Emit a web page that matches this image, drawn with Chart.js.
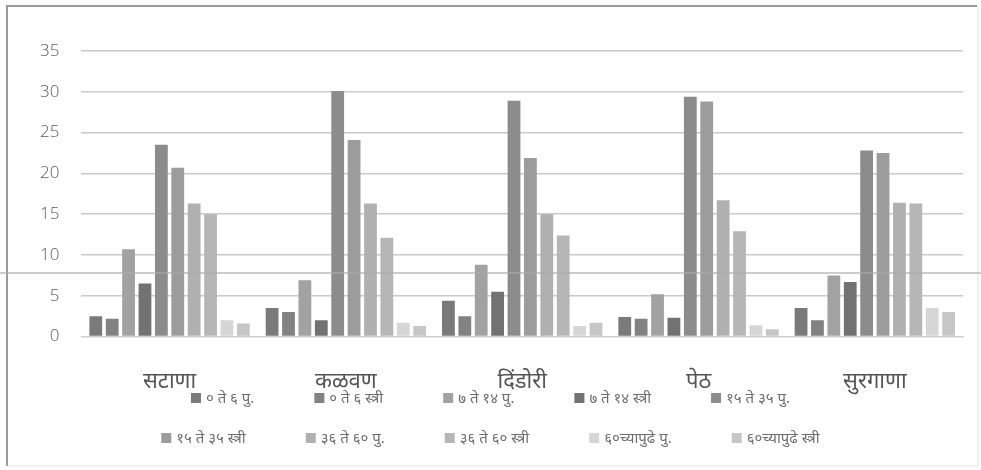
<!DOCTYPE html>
<html>
<head>
<meta charset="utf-8">
<script src="https://cdn.jsdelivr.net/npm/chart.js@4.4.0/dist/chart.umd.min.js"></script>
<style>
    html, body { margin: 0; padding: 0; background: #ffffff; }
    #wrap { width: 981px; height: 470px; position: relative; }
</style>
</head>
<body>
<div id="wrap"><canvas id="chart"></canvas></div>
<script>
// Data
const categories = ['सटाणा', 'कळवण', 'दिंडोरी', 'पेठ', 'सुरगाणा'];
const seriesLabels = ['० ते ६ पु.', '० ते ६ स्त्री', '७ ते १४ पु.', '७ ते १४ स्त्री', '१५ ते ३५ पु.',
    '१५ ते ३५ स्त्री', '३६ ते ६० पु.', '३६ ते ६० स्त्री', '६०च्यापुढे पु.', '६०च्यापुढे स्त्री'];
const age0to6M = [2.5, 3.5, 4.4, 2.4, 3.5];
const age0to6F = [2.2, 3.0, 2.5, 2.2, 2.0];
const age7to14M = [10.7, 6.9, 8.8, 5.2, 7.5];
const age7to14F = [6.5, 2.0, 5.5, 2.3, 6.7];
const age15to35M = [23.5, 30.1, 28.9, 29.4, 22.8];
const age15to35F = [20.7, 24.1, 21.9, 28.8, 22.5];
const age36to60M = [16.3, 16.3, 15.0, 16.7, 16.4];
const age36to60F = [15.0, 12.1, 12.4, 12.9, 16.3];
const age60plusM = [2.0, 1.7, 1.3, 1.4, 3.5];
const age60plusF = [1.6, 1.3, 1.7, 0.9, 3.0];
const yTicks = [0, 5, 10, 15, 20, 25, 30, 35];

const seriesValues = [age0to6M, age0to6F, age7to14M, age7to14F, age15to35M,
    age15to35F, age36to60M, age36to60F, age60plusM, age60plusF];
const greys = ['#7a7a7a', '#828282', '#a2a2a2', '#727272', '#8c8c8c',
    '#9c9c9c', '#b0b0b0', '#b6b6b6', '#d6d6d6', '#c6c6c6'];

const FONT = "'Noto Sans', 'Open Sans', sans-serif";

// frame + scan line + two-row legend like the original
const decorPlugin = {
    id: 'decor',
    beforeDraw(chart) {
        const c = chart.ctx;
        c.save();
        c.fillStyle = '#ffffff';
        c.fillRect(0, 0, chart.width, chart.height);
        c.strokeStyle = '#9a9a9a';
        c.lineWidth = 2;
        c.beginPath();
        c.moveTo(7, chart.height - 4);
        c.lineTo(7, 6);
        c.lineTo(chart.width - 4, 6);
        c.stroke();
        c.strokeStyle = '#e2e2e2';
        c.lineWidth = 1;
        c.beginPath();
        c.moveTo(chart.width - 3, 6);
        c.lineTo(chart.width - 3, chart.height - 4);
        c.lineTo(7, chart.height - 4);
        c.stroke();
        c.restore();
    },
    afterDraw(chart) {
        const c = chart.ctx;
        c.save();
        c.strokeStyle = 'rgba(170,170,170,0.6)';
        c.lineWidth = 2;
        c.beginPath();
        c.moveTo(0, 273);
        c.lineTo(chart.width, 273);
        c.stroke();

        c.font = '15px ' + FONT;
        c.textBaseline = 'middle';
        const rows = [[0, 1, 2, 3, 4], [5, 6, 7, 8, 9]];
        const rowY = [398, 438];
        const box = 10, gap = 5, spacing = 60;
        rows.forEach((row, r) => {
            const widths = row.map(i => box + gap + c.measureText(seriesLabels[i]).width);
            const total = widths.reduce((a, b) => a + b, 0) + spacing * (row.length - 1);
            let x = (chart.width - total) / 2;
            row.forEach((i, k) => {
                c.fillStyle = greys[i];
                c.fillRect(x, rowY[r] - box / 2, box, box);
                c.fillStyle = '#6e6e6e';
                c.fillText(seriesLabels[i], x + box + gap, rowY[r] + 1);
                x += widths[k] + spacing;
            });
        });
        c.restore();
    }
};

const ctx = document.getElementById('chart');
new Chart(ctx, {
    type: 'bar',
    data: {
        labels: categories,
        datasets: seriesValues.map((vals, i) => ({
            label: seriesLabels[i],
            data: vals,
            backgroundColor: greys[i],
            borderWidth: 0,
            categoryPercentage: 0.93,
            barPercentage: 0.78
        }))
    },
    options: {
        responsive: true,
        maintainAspectRatio: false,
        animation: false,
        layout: { padding: { left: 18, right: 18, top: 51, bottom: 51 } },
        plugins: {
            legend: { display: false },
            tooltip: { enabled: false }
        },
        scales: {
            x: {
                grid: { display: false },
                border: { color: '#d0d0d0' },
                ticks: {
                    color: '#555555',
                    font: { family: FONT, size: 22 },
                    padding: 24
                }
            },
            y: {
                min: 0,
                max: 35,
                afterBuildTicks(axis) {
                    axis.ticks = yTicks.map(v => ({ value: v }));
                },
                grid: { color: '#cacaca', lineWidth: 1.5, drawTicks: false },
                border: { display: false },
                ticks: {
                    color: '#5a5a5a',
                    font: { family: "'Open Sans', sans-serif", size: 17, weight: '300' },
                    padding: 22
                }
            }
        }
    },
    plugins: [decorPlugin]
});
</script>
</body>
</html>
